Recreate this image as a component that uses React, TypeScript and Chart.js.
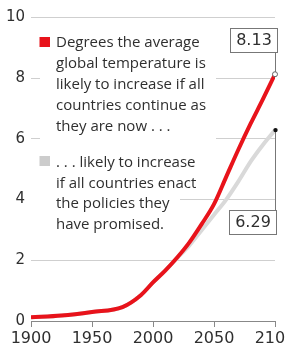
import React, { useEffect, useRef } from "react";
import { Chart, registerables } from "chart.js";

Chart.register(...registerables);

const years = [1900, 1925, 1950, 1975, 1990, 2000, 2010, 2020, 2030, 2040, 2050, 2060, 2070, 2080, 2090, 2100];
const currentPath = [0.12, 0.18, 0.3, 0.46, 0.85, 1.27, 1.66, 2.1, 2.6, 3.2, 3.85, 4.75, 5.65, 6.5, 7.3, 8.13];
const promisedPath = [0.12, 0.18, 0.3, 0.46, 0.85, 1.27, 1.66, 2.08, 2.5, 3.0, 3.5, 4.0, 4.6, 5.25, 5.8, 6.29];
const xTicks = [1900, 1950, 2000, 2050, 2100];
const yTicks = [0, 2, 4, 6, 8, 10];
const legendCurrent = [
  "Degrees the average",
  "global temperature is",
  "likely to increase if all",
  "countries continue as",
  "they are now . . .",
];
const legendPromised = [
  ". . . likely to increase",
  "if all countries enact",
  "the policies they",
  "have promised.",
];
const endLabels = ["8.13", "6.29"];

const RED = "#e8131b";
const GRAY = "#d9d9d9";
const TEXT = "#2f2f2f";
const TEXT_FONT = "15px 'Open Sans'";
const NUM_FONT = "16px 'DejaVu Sans'";

const annotationPlugin = {
  id: "annot",
  beforeDatasetsDraw(chart: any) {
    const ctx = chart.ctx;
    const area = chart.chartArea;
    ctx.save();
    ctx.fillStyle = "#fff";
    ctx.fillRect(area.left + 9, 32, 176, 118);
    ctx.fillRect(area.left - 1, 151, 150, 86);
    ctx.fillStyle = RED;
    ctx.fillRect(39.5, 37, 10.5, 10);
    ctx.fillStyle = "#cccccc";
    ctx.fillRect(39.5, 156, 10.5, 10);
    ctx.fillStyle = TEXT;
    ctx.font = TEXT_FONT;
    ctx.textBaseline = "middle";
    ctx.textAlign = "left";
    legendCurrent.forEach((t, i) => ctx.fillText(t, 56, 43 + i * 20.9));
    legendPromised.forEach((t, i) => ctx.fillText(t, 56, 163 + i * 20.5));
    ctx.restore();
  },
  afterDatasetsDraw(chart: any) {
    const ctx = chart.ctx;
    const xs = chart.scales.x;
    const ys = chart.scales.y;
    const last = years.length - 1;
    const px = xs.getPixelForValue(years[last]);
    const pyRed = ys.getPixelForValue(currentPath[last]);
    const pyGray = ys.getPixelForValue(promisedPath[last]);
    ctx.save();
    ctx.strokeStyle = "#777";
    ctx.lineWidth = 1;
    const box1Bottom = pyRed - 22;
    const box2Top = pyGray + 80;
    ctx.beginPath();
    ctx.moveTo(px + 0.5, box1Bottom);
    ctx.lineTo(px + 0.5, pyRed);
    ctx.moveTo(px + 0.5, pyGray);
    ctx.lineTo(px + 0.5, box2Top);
    ctx.stroke();
    const bw = 47;
    const bh = 24;
    const drawBox = (x: number, y: number, label: string) => {
      ctx.fillStyle = "#fff";
      ctx.fillRect(x, y, bw, bh);
      ctx.strokeStyle = "#777";
      ctx.strokeRect(x + 0.5, y + 0.5, bw, bh);
      ctx.fillStyle = TEXT;
      ctx.font = NUM_FONT;
      ctx.textAlign = "center";
      ctx.textBaseline = "middle";
      ctx.fillText(label, x + bw / 2 + 0.5, y + bh / 2 + 1);
    };
    drawBox(Math.round(px) - 45, Math.round(box1Bottom) - bh, endLabels[0]);
    drawBox(Math.round(px) - 46, Math.round(box2Top), endLabels[1]);
    ctx.beginPath();
    ctx.arc(px, pyRed, 2.5, 0, Math.PI * 2);
    ctx.fillStyle = "#fff";
    ctx.fill();
    ctx.strokeStyle = "#666";
    ctx.stroke();
    ctx.beginPath();
    ctx.arc(px + 0.5, pyGray, 2.2, 0, Math.PI * 2);
    ctx.fillStyle = "#111";
    ctx.fill();
    ctx.restore();
  },
};

export default function App() {
  const ref = useRef<HTMLCanvasElement>(null);
  useEffect(() => {
    const canvas = ref.current;
    if (!canvas) return;
    const chart = new Chart(canvas, {
      type: "line",
      data: {
        datasets: [
          {
            label: "Current path",
            data: years.map((y, i) => ({ x: y, y: currentPath[i] })),
            borderColor: RED,
            borderWidth: 4,
            pointRadius: 0,
            cubicInterpolationMode: "monotone",
            order: 1,
          },
          {
            label: "Promised",
            data: years.map((y, i) => ({ x: y, y: promisedPath[i] })),
            borderColor: GRAY,
            borderWidth: 4,
            pointRadius: 0,
            cubicInterpolationMode: "monotone",
            order: 2,
          },
        ],
      },
      options: {
        animation: false,
        responsive: true,
        maintainAspectRatio: false,
        layout: { padding: { top: 17.5, right: 10, left: 0, bottom: 0 } },
        plugins: { legend: { display: false }, tooltip: { enabled: false } },
        scales: {
          x: {
            type: "linear",
            min: 1900,
            max: 2100,
            afterBuildTicks: (s: any) => {
              s.ticks = xTicks.map((v) => ({ value: v }));
            },
            afterFit: (s: any) => {
              s.height = 26;
              s.paddingLeft = 0;
              s.paddingRight = 0;
            },
            ticks: {
              color: TEXT,
              font: { family: "DejaVu Sans", size: 16 },
              padding: 2,
              maxRotation: 0,
              autoSkip: false,
              callback: (v: any) => String(v),
            },
            grid: { drawOnChartArea: false, drawTicks: true, tickLength: 6, color: "#888" },
            border: { color: "#888", width: 1 },
          },
          y: {
            min: 0,
            max: 10,
            afterBuildTicks: (s: any) => {
              s.ticks = yTicks.map((v) => ({ value: v }));
            },
            afterFit: (s: any) => {
              s.width = 31;
            },
            ticks: {
              color: TEXT,
              font: { family: "DejaVu Sans", size: 15 },
              padding: 6,
              callback: (v: any) => String(v),
            },
            grid: { color: "#cfcfcf", drawTicks: false },
            border: { display: false },
          },
        },
      },
      plugins: [annotationPlugin],
    } as any);
    return () => chart.destroy();
  }, []);
  return (
    <div style={{ position: "fixed", left: 0, top: 0, width: 285, height: 347, background: "#fff" }}>
      <canvas ref={ref} />
    </div>
  );
}
